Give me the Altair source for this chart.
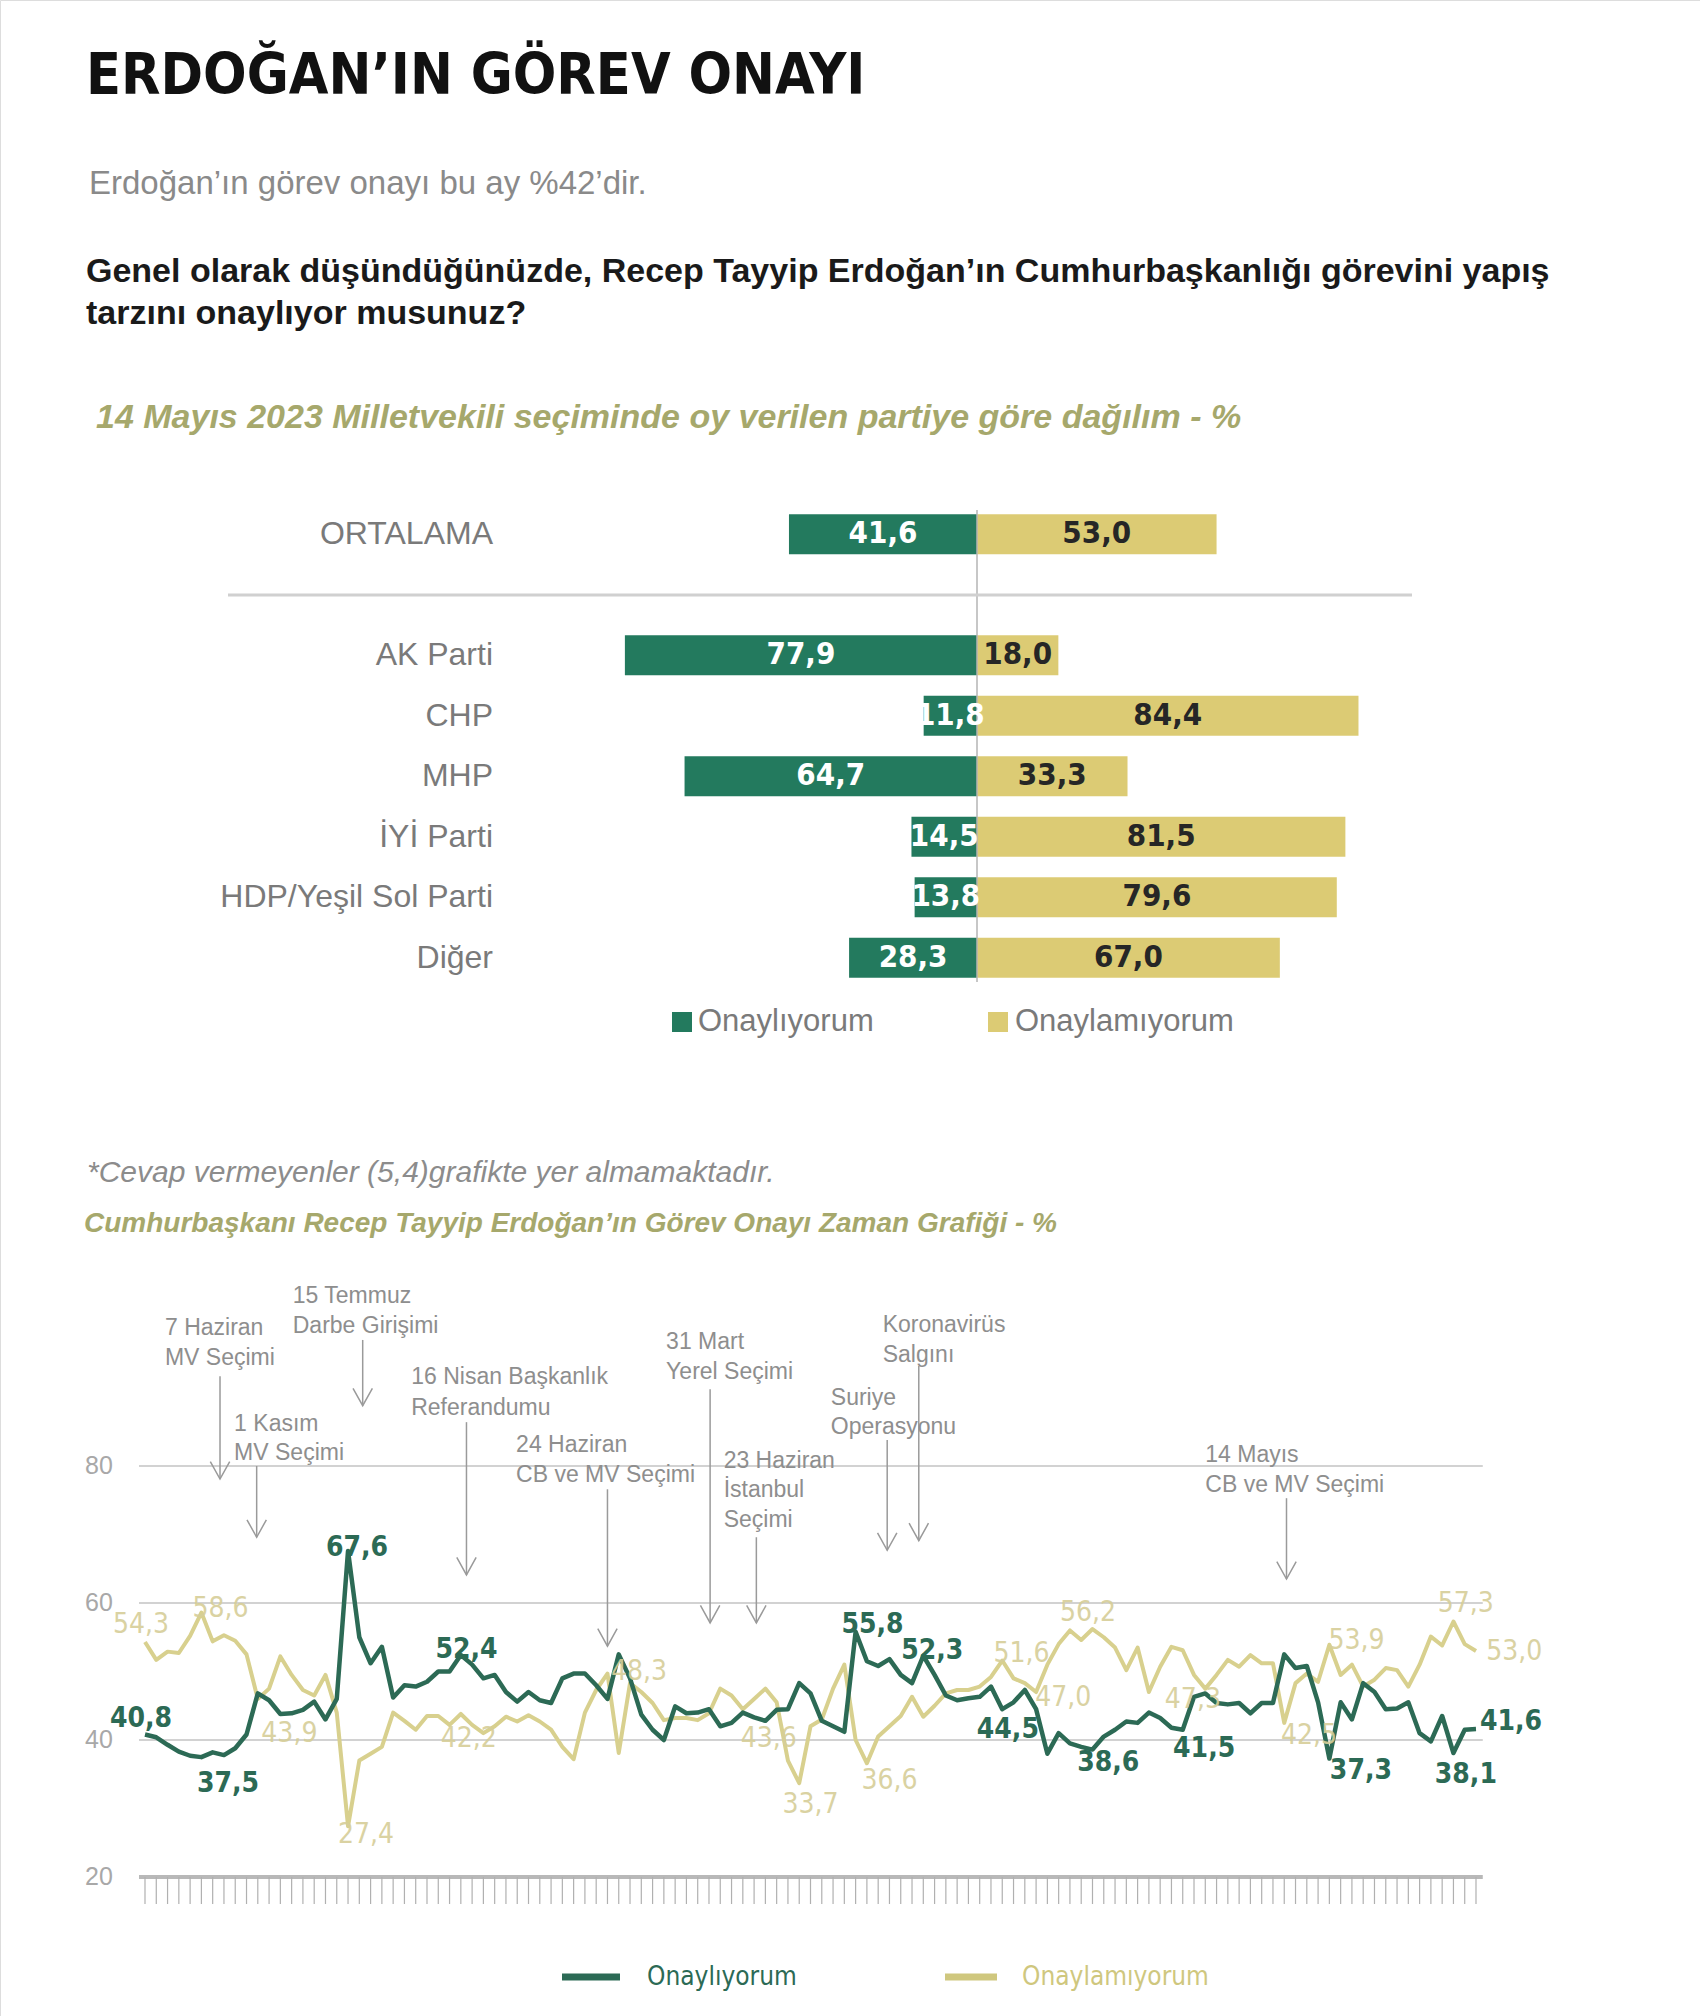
import altair as alt
import pandas as pd

# ---------------- texts ----------------
title_text = "ERDOĞAN’IN GÖREV ONAYI"
subtitle_text = "Erdoğan’ın görev onayı bu ay %42’dir."
question_lines = [
    "Genel olarak düşündüğünüzde, Recep Tayyip Erdoğan’ın Cumhurbaşkanlığı görevini yapış",
    "tarzını onaylıyor musunuz?",
]
bar_title = "14  Mayıs 2023 Milletvekili seçiminde oy verilen partiye göre dağılım - %"
footnote = "*Cevap vermeyenler (5,4)grafikte yer almamaktadır."
line_title = "Cumhurbaşkanı Recep Tayyip Erdoğan’ın Görev Onayı Zaman Grafiği - %"
legend_labels = ["Onaylıyorum", "Onaylamıyorum"]

# ---------------- bar chart data ----------------
bar_categories = ["ORTALAMA", "AK Parti", "CHP", "MHP", "İYİ Parti", "HDP/Yeşil Sol Parti", "Diğer"]
bar_approve = [41.6, 77.9, 11.8, 64.7, 14.5, 13.8, 28.3]
bar_disapprove = [53.0, 18.0, 84.4, 33.3, 81.5, 79.6, 67.0]

# ---------------- time series (survey index) ----------------
approve_series = [
    40.8, 40.4, 39.3, 38.3, 37.7, 37.5, 38.2, 37.8, 38.8, 40.8,
    46.8, 45.8, 43.8, 43.9, 44.4, 45.6, 43.0, 46.0, 67.6, 55.0,
    51.2, 53.6, 46.2, 48.0, 47.8, 48.5, 50.0, 50.0, 52.4, 51.0,
    49.0, 49.5, 47.0, 45.6, 47.0, 45.8, 45.4, 49.0, 49.7, 49.7,
    48.0, 46.0, 52.5, 49.0, 43.7, 41.5, 40.0, 44.9, 43.9, 44.0,
    44.5, 42.0, 42.5, 44.0, 43.3, 42.8, 44.4, 44.5, 48.3, 46.8,
    42.8, 42.0, 41.2, 55.8, 51.5, 50.8, 51.8, 49.5, 48.3, 52.3,
    49.5, 46.5, 45.8, 46.1, 46.3, 47.8, 44.5, 45.5, 47.3, 44.5,
    38.0, 41.0, 39.5, 39.0, 38.6, 40.5, 41.5, 42.7, 42.5, 44.0,
    43.2, 41.8, 41.5, 46.3, 46.8, 45.4, 45.2, 45.4, 43.9, 45.4,
    45.4, 52.5, 50.5, 50.8, 45.5, 37.3, 45.5, 43.0, 48.3, 47.0,
    44.5, 44.6, 45.5, 41.0, 39.8, 43.5, 38.1, 41.5, 41.6,
]
disapprove_series = [
    54.3, 51.7, 52.9, 52.7, 55.2, 58.6, 54.4, 55.3, 54.5, 52.5,
    46.0, 47.5, 52.2, 49.5, 47.3, 46.5, 49.5, 44.0, 27.4, 37.0,
    38.0, 39.0, 44.0, 42.8, 41.5, 43.5, 43.5, 42.2, 43.8, 42.2,
    41.0, 42.0, 43.4, 42.7, 43.6, 42.7, 41.5, 39.0, 37.2, 44.0,
    47.3, 49.7, 38.1, 48.3, 47.0, 45.4, 42.9, 43.2, 43.2, 42.9,
    43.9, 47.5, 46.5, 44.5, 46.0, 47.5, 45.5, 37.0, 33.7, 42.0,
    43.0, 47.5, 51.0, 40.0, 36.6, 40.5, 42.0, 43.5, 46.3, 43.4,
    45.0, 46.8, 47.3, 47.3, 47.8, 49.2, 51.6, 49.0, 48.3, 47.0,
    51.0, 54.0, 56.0, 54.6, 56.2, 55.0, 53.5, 50.2, 53.5, 47.0,
    50.7, 53.6, 53.1, 49.5, 47.5, 49.5, 51.7, 50.7, 52.4, 51.2,
    51.2, 42.5, 48.3, 49.7, 48.5, 53.9, 49.5, 51.0, 47.8, 48.8,
    50.5, 50.2, 47.8, 51.0, 55.1, 53.8, 57.3, 54.0, 53.0,
]
y_ticks = [20, 40, 60, 80]

# value labels: (text, index position, value position)
green_labels = [
    ("40,8", -0.35, 43.1), ("37,5", 7.36, 33.6), ("67,6", 18.8, 68.0), ("52,4", 28.5, 53.1),
    ("55,8", 64.5, 56.8), ("52,3", 69.8, 53.0), ("44,5", 76.5, 41.5), ("38,6", 85.4, 36.6),
    ("41,5", 93.9, 38.7), ("37,3", 107.8, 35.5), ("38,1", 117.1, 34.9), ("41,6", 121.1, 42.6),
]
yellow_labels = [
    ("54,3", -0.35, 56.8), ("58,6", 6.7, 59.1), ("43,9", 12.8, 40.9), ("27,4", 19.6, 26.1),
    ("42,2", 28.7, 40.1), ("48,3", 43.8, 49.9), ("43,6", 55.3, 40.1), ("33,7", 59.0, 30.5),
    ("36,6", 66.0, 34.0), ("51,6", 77.7, 52.6), ("47,0", 81.4, 46.1), ("56,2", 83.6, 58.5),
    ("47,3", 92.9, 45.8), ("42,5", 103.2, 40.6), ("53,9", 107.4, 54.5), ("57,3", 117.1, 59.9),
    ("53,0", 121.4, 52.8),
]
# event annotations: text lines (text, index, value) and arrows (index, top, bottom)
event_lines = [
    ("7 Haziran", 1.77, 100.1), ("MV Seçimi", 1.77, 95.8),
    ("15 Temmuz", 13.1, 104.8), ("Darbe Girişimi", 13.1, 100.4),
    ("1 Kasım", 7.9, 86.1), ("MV Seçimi", 7.9, 81.9),
    ("16 Nisan Başkanlık", 23.6, 93.0), ("Referandumu", 23.6, 88.5),
    ("24 Haziran", 32.9, 83.1), ("CB  ve MV Seçimi", 32.9, 78.7),
    ("31 Mart", 46.2, 98.1), ("Yerel Seçimi", 46.2, 93.7),
    ("23 Haziran", 51.3, 80.7), ("İstanbul", 51.3, 76.5), ("Seçimi", 51.3, 72.1),
    ("Suriye", 60.8, 89.9), ("Operasyonu", 60.8, 85.7),
    ("Koronavirüs", 65.4, 100.6), ("Salgını", 65.4, 96.2),
    ("14 Mayıs", 94.0, 81.6), ("CB  ve MV Seçimi", 94.0, 77.2),
]
event_arrows = [
    (6.65, 93.1, 78.1), (19.3, 98.4, 88.8), (9.9, 80.0, 69.6), (28.5, 86.4, 64.1),
    (41.0, 76.6, 53.7), (50.1, 91.2, 57.1), (54.2, 69.6, 57.1), (65.8, 83.8, 67.7),
    (68.6, 94.6, 69.1), (101.2, 75.3, 63.5),
]

# ---------------- style ----------------
W, H = 1700, 2016
FN = "DejaVu Sans Condensed, DejaVu Sans, sans-serif"
FS = "Liberation Sans, Arial, sans-serif"
GREEN_BAR = "#237a5e"
YEL_BAR = "#dccb74"
GREEN_LINE = "#2c6a55"
YEL_LINE = "#d8d08e"
OLIVE = "#a6a86c"

layers = []


def ptext(rows, **kw):
    df = pd.DataFrame(rows, columns=["t", "px", "py"])
    return alt.Chart(df).mark_text(**kw).encode(
        x=alt.X("px:Q", scale=None), y=alt.Y("py:Q", scale=None), text="t:N"
    )


# headers
layers.append(ptext([(title_text, 86, 94)], font=FN, fontSize=57, fontWeight="bold",
                    align="left", baseline="alphabetic", color="#111"))
layers.append(ptext([(subtitle_text, 89, 194)], font=FS, fontSize=33,
                    align="left", baseline="alphabetic", color="#8a8a8a"))
layers.append(ptext([(question_lines[0], 86, 282), (question_lines[1], 86, 324)], font=FS,
                    fontSize=34, fontWeight="bold", align="left", baseline="alphabetic", color="#1a1a1a"))
layers.append(ptext([(bar_title, 96, 428)], font=FS, fontSize=34, fontWeight="bold",
                    fontStyle="italic", align="left", baseline="alphabetic", color=OLIVE))
layers.append(ptext([(footnote, 87, 1182)], font=FS, fontSize=30, fontStyle="italic",
                    align="left", baseline="alphabetic", color="#8c8c8c"))
layers.append(ptext([(line_title, 84, 1232)], font=FS, fontSize=28, fontWeight="bold",
                    fontStyle="italic", align="left", baseline="alphabetic", color=OLIVE))

# ---------------- bar chart ----------------
band_domain = [bar_categories[0], "gap"] + bar_categories[1:]
bar_df = pd.DataFrame({"cat": bar_categories, "a": bar_approve, "d": bar_disapprove})
bar_df["neg"] = -bar_df["a"]
bar_df["zero"] = 0.0
bar_df["amid"] = -bar_df["a"] / 2
bar_df["dmid"] = bar_df["d"] / 2
bar_df["alab"] = [f"{v:.1f}".replace(".", ",") for v in bar_approve]
bar_df["dlab"] = [f"{v:.1f}".replace(".", ",") for v in bar_disapprove]

yband = alt.Y("cat:N", scale=alt.Scale(domain=band_domain, range=[504, 988],
                                       paddingInner=0.34, paddingOuter=0.17), axis=None)
xs = alt.Scale(domain=[-100, 100], range=[525, 1429], nice=False, zero=False)

base_bar = alt.Chart(bar_df)
layers.append(base_bar.mark_bar(color=GREEN_BAR).encode(
    x=alt.X("neg:Q", scale=xs, axis=None), x2="zero:Q", y=yband))
layers.append(base_bar.mark_bar(color=YEL_BAR).encode(
    x=alt.X("zero:Q", scale=xs, axis=None), x2="d:Q", y=yband))
layers.append(alt.Chart(pd.DataFrame({"z": [0.0]})).mark_rule(color="#b5b5b5", strokeWidth=1.5).encode(
    x=alt.X("z:Q", scale=xs, axis=None), y=alt.value(510), y2=alt.value(982)))
layers.append(base_bar.mark_text(font=FN, fontSize=31, fontWeight="bold", color="white",
                                 baseline="middle").encode(
    x=alt.X("amid:Q", scale=xs, axis=None), y=yband, text="alab:N"))
layers.append(base_bar.mark_text(font=FN, fontSize=31, fontWeight="bold", color="#262626",
                                 baseline="middle").encode(
    x=alt.X("dmid:Q", scale=xs, axis=None), y=yband, text="dlab:N"))
layers.append(base_bar.mark_text(font=FS, fontSize=32, color="#7a7a7a", align="right",
                                 baseline="middle").encode(
    x=alt.value(493), y=yband, text="cat:N"))
# separator below average row
layers.append(alt.Chart(pd.DataFrame({"z": [0.0]})).mark_rule(color="#d0d0d0", strokeWidth=3).encode(
    x=alt.value(228), x2=alt.value(1412), y=alt.value(595)))
# bar legend
leg1 = pd.DataFrame({"px": [682, 998], "py": [1022, 1022], "c": [GREEN_BAR, YEL_BAR]})
layers.append(alt.Chart(leg1).mark_square(size=400, opacity=1).encode(
    x=alt.X("px:Q", scale=None), y=alt.Y("py:Q", scale=None), color=alt.Color("c:N", scale=None)))
layers.append(ptext([(legend_labels[0], 698, 1022), (legend_labels[1], 1015, 1022)], font=FS,
                    fontSize=31, color="#7a7a7a", align="left", baseline="middle"))

# ---------------- line chart ----------------
n = len(approve_series)
xl = alt.Scale(domain=[0, n - 1], range=[145, 1476], nice=False, zero=False)
yl = alt.Scale(domain=[20, 80], range=[1877, 1466], nice=False, zero=False)
XL = lambda f: alt.X(f, scale=xl, axis=None)
YL = lambda f: alt.Y(f, scale=yl, axis=None)

grid_df = pd.DataFrame({"v": y_ticks, "x0": -0.53, "x1": 118.6,
                        "lab": [str(v) for v in y_ticks]})
layers.append(alt.Chart(grid_df[grid_df.v > 20]).mark_rule(color="#d2d2d2", strokeWidth=2).encode(
    x=XL("x0:Q"), x2="x1:Q", y=YL("v:Q")))
layers.append(alt.Chart(grid_df[grid_df.v == 20]).mark_rule(color="#b8b8b8", strokeWidth=4).encode(
    x=XL("x0:Q"), x2="x1:Q", y=YL("v:Q")))
layers.append(alt.Chart(grid_df).mark_text(font=FS, fontSize=25, color="#a8a8a8", align="center",
                                           baseline="middle").encode(
    x=alt.value(99), y=YL("v:Q"), text="lab:N"))
tick_df = pd.DataFrame({"i": list(range(n)), "b": 20})
layers.append(alt.Chart(tick_df).mark_rule(color="#b0b0b0", strokeWidth=1.2).encode(
    x=XL("i:Q"), y=YL("b:Q"), y2=alt.value(1904)))

# event arrows and texts
arr_df = pd.DataFrame(event_arrows, columns=["x", "top", "bot"])
layers.append(alt.Chart(arr_df).mark_rule(color="#9a9a9a", strokeWidth=1.5).encode(
    x=XL("x:Q"), y=YL("top:Q"), y2="bot:Q"))
layers.append(alt.Chart(arr_df).mark_point(shape="M-0.5,-0.9L0,0L0.5,-0.9", filled=False,
                                           size=1500, color="#9a9a9a", strokeWidth=1.5,
                                           opacity=1).encode(
    x=XL("x:Q"), y=YL("bot:Q")))
ev_df = pd.DataFrame(event_lines, columns=["t", "x", "y"])
layers.append(alt.Chart(ev_df).mark_text(font=FS, fontSize=23, color="#8e8e8e", align="left",
                                         baseline="middle").encode(
    x=XL("x:Q"), y=YL("y:Q"), text="t:N"))

# series
ser_df = pd.DataFrame({"i": list(range(n)), "a": approve_series, "d": disapprove_series})
layers.append(alt.Chart(ser_df).mark_line(color=YEL_LINE, strokeWidth=4, strokeJoin="round").encode(
    x=XL("i:Q"), y=YL("d:Q")))
layers.append(alt.Chart(ser_df).mark_line(color=GREEN_LINE, strokeWidth=4.5, strokeJoin="round").encode(
    x=XL("i:Q"), y=YL("a:Q")))

gl_df = pd.DataFrame(green_labels, columns=["t", "x", "y"])
yl_df = pd.DataFrame(yellow_labels, columns=["t", "x", "y"])
layers.append(alt.Chart(yl_df).mark_text(font=FN, fontSize=28, color="#d6ce98", align="center",
                                         baseline="middle", opacity=0.9).encode(
    x=XL("x:Q"), y=YL("y:Q"), text="t:N"))
layers.append(alt.Chart(gl_df).mark_text(font=FN, fontSize=28, fontWeight="bold", color=GREEN_LINE,
                                         align="center", baseline="middle").encode(
    x=XL("x:Q"), y=YL("y:Q"), text="t:N"))

# line legend
leg2 = pd.DataFrame({"px": [562, 945], "px2": [620, 997], "py": [1977, 1977], "c": [GREEN_LINE, "#cfc77e"]})
layers.append(alt.Chart(leg2).mark_rule(strokeWidth=7).encode(
    x=alt.X("px:Q", scale=None), x2="px2:Q", y=alt.Y("py:Q", scale=None),
    color=alt.Color("c:N", scale=None)))
leg2t = pd.DataFrame({"t": legend_labels, "px": [647, 1022], "py": [1977, 1977], "c": [GREEN_LINE, "#cfc77e"]})
layers.append(alt.Chart(leg2t).mark_text(font=FN, fontSize=26, align="left", baseline="middle").encode(
    x=alt.X("px:Q", scale=None), y=alt.Y("py:Q", scale=None), text="t:N",
    color=alt.Color("c:N", scale=None)))

chart = alt.layer(*layers).resolve_scale(x="independent", y="independent").properties(
    width=W, height=H, autosize=alt.AutoSizeParams(type="none"),
    padding={"left": 0, "top": 0, "right": 0, "bottom": 0},
).configure_view(stroke=None).configure(background="white")

chart.save("out.html", embed_options={"renderer": "svg", "actions": False})
